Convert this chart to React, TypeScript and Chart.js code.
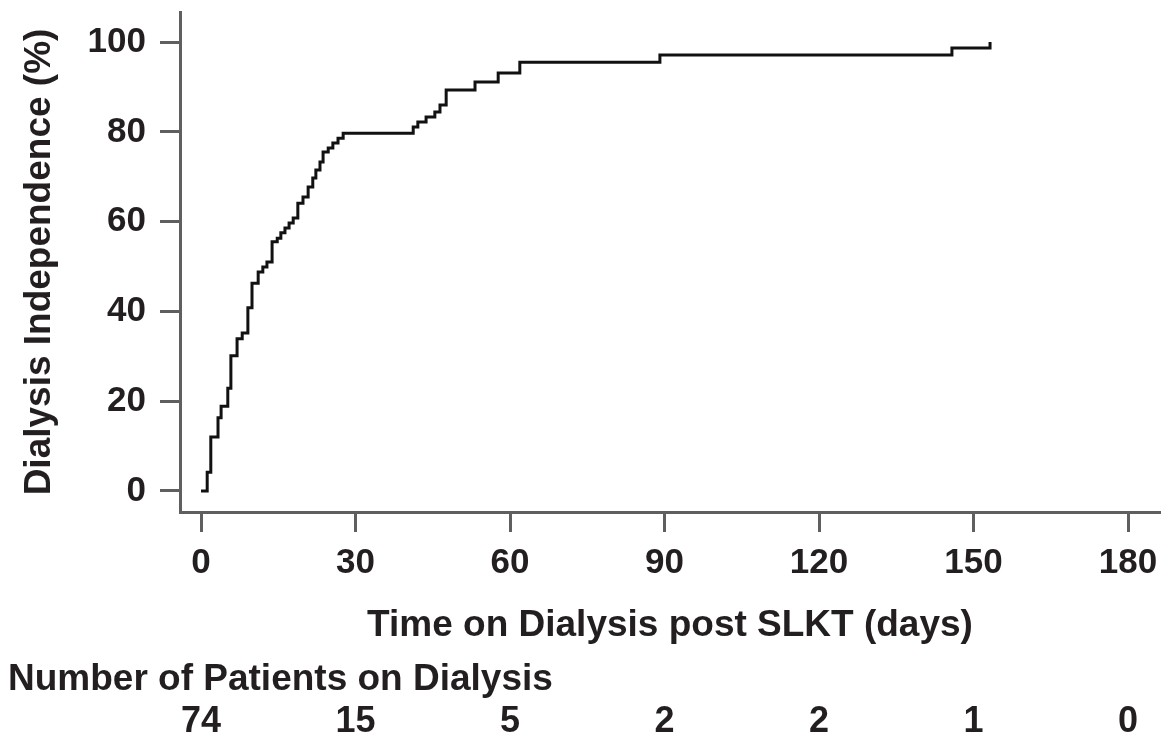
import React, { useEffect, useRef } from "react";
import { Chart, registerables } from "chart.js";

Chart.register(...registerables);

// Time on dialysis (days) at which each step occurs
const stepDays: number[] = [
  0, 1.2, 1.9, 3.3, 3.9, 5.2, 5.8, 7.0, 8.0, 9.1, 9.9, 11.1, 12.0, 12.8, 13.8,
  14.8, 15.5, 16.3, 17.1, 17.9, 18.8, 19.8, 20.8, 21.7, 22.3, 23.1, 23.7, 24.7,
  25.6, 26.6, 27.6, 41.2, 42.1, 43.7, 45.4, 46.4, 47.6, 53.2, 57.7, 61.9, 89.1,
  145.8, 153.2,
];
// Cumulative dialysis independence (%) after each step
const independencePct: number[] = [
  0, 4.2, 12.0, 16.3, 18.9, 22.9, 30.1, 33.9, 35.2, 40.8, 46.3, 48.8, 49.9,
  51.0, 55.5, 56.3, 57.5, 58.6, 59.7, 60.8, 64.1, 65.5, 67.7, 69.7, 71.5, 73.3,
  75.5, 76.4, 77.5, 78.6, 79.7, 81.1, 82.2, 83.3, 84.4, 86.0, 89.3, 91.1, 93.1,
  95.5, 97.1, 98.7, 100,
];

const xTicks: number[] = [0, 30, 60, 90, 120, 150, 180];
const yTicks: number[] = [0, 20, 40, 60, 80, 100];
const atRiskDays: number[] = [0, 30, 60, 90, 120, 150, 180];
const atRiskCounts: number[] = [74, 15, 5, 2, 2, 1, 0];

const xTitle = "Time on Dialysis post SLKT (days)";
const yTitle = "Dialysis Independence (%)";
const tableTitle = "Number of Patients on Dialysis";

const FONT = "'Liberation Sans', Arial, Helvetica, sans-serif";
const TEXT = "#231f20";
const AXIS = "#5f5f5f";

const atRiskPlugin = {
  id: "atRisk",
  afterDraw(chart: any) {
    const ctx = chart.ctx as CanvasRenderingContext2D;
    const xs = chart.scales.x;
    ctx.save();
    ctx.fillStyle = TEXT;
    ctx.textBaseline = "middle";
    ctx.textAlign = "left";
    ctx.font = `bold 37px ${FONT}`;
    ctx.fillText(tableTitle, 8, 680);
    ctx.font = `bold 36px ${FONT}`;
    ctx.textAlign = "center";
    atRiskDays.forEach((d, i) => {
      ctx.fillText(String(atRiskCounts[i]), xs.getPixelForValue(d), 722);
    });
    ctx.restore();
  },
};

export default function App() {
  const ref = useRef<HTMLCanvasElement | null>(null);

  useEffect(() => {
    if (!ref.current) return;
    const data = stepDays.map((d, i) => ({ x: d, y: independencePct[i] }));
    const chart = new Chart(ref.current, {
      type: "line",
      data: {
        datasets: [
          {
            data,
            stepped: "before",
            borderColor: "#111",
            borderWidth: 3,
            pointRadius: 0,
            fill: false,
            tension: 0,
          },
        ],
      },
      options: {
        animation: false,
        responsive: false,
        maintainAspectRatio: false,
        layout: { padding: { left: 0, right: 11, top: 12, bottom: 95 } },
        plugins: {
          legend: { display: false },
          tooltip: { enabled: false },
        },
        scales: {
          x: {
            type: "linear",
            min: -4.08,
            max: 186.2,
            afterFit: (s: any) => {
              s.height = 136;
              s.paddingLeft = 0;
              s.paddingRight = 0;
            },
            afterBuildTicks: (s: any) => {
              s.ticks = xTicks.map((v) => ({ value: v }));
            },
            grid: {
              display: true,
              drawOnChartArea: false,
              drawTicks: true,
              tickLength: 20,
              tickColor: AXIS,
              tickWidth: 3,
            },
            border: { display: true, color: AXIS, width: 3 },
            ticks: {
              color: TEXT,
              font: { family: FONT, size: 35, weight: "bold" },
              padding: 10,
              maxRotation: 0,
              autoSkip: false,
            },
            title: {
              display: true,
              text: xTitle,
              color: TEXT,
              font: { family: FONT, size: 37, weight: "bold" },
              padding: { top: 0, bottom: 0 },
            },
          },
          y: {
            type: "linear",
            min: -4.68,
            max: 106.7,
            afterFit: (s: any) => {
              s.width = 180;
              s.paddingTop = 0;
              s.paddingBottom = 0;
            },
            afterBuildTicks: (s: any) => {
              s.ticks = yTicks.map((v) => ({ value: v }));
            },
            grid: {
              display: true,
              drawOnChartArea: false,
              drawTicks: true,
              tickLength: 20,
              tickColor: AXIS,
              tickWidth: 3,
            },
            border: { display: true, color: AXIS, width: 3 },
            ticks: {
              color: TEXT,
              font: { family: FONT, size: 35, weight: "bold" },
              padding: 14,
              autoSkip: false,
            },
            title: {
              display: true,
              text: yTitle,
              color: TEXT,
              font: { family: FONT, size: 37, weight: "bold" },
              padding: { top: 18, bottom: 0 },
            },
          },
        },
      },
      plugins: [atRiskPlugin],
    });
    return () => chart.destroy();
  }, []);

  return (
    <div
      style={{
        position: "fixed",
        left: 0,
        top: 0,
        width: 1171,
        height: 743,
        background: "#fff",
      }}
    >
      <canvas ref={ref} width={1171} height={743} style={{ width: 1171, height: 743 }} />
    </div>
  );
}
